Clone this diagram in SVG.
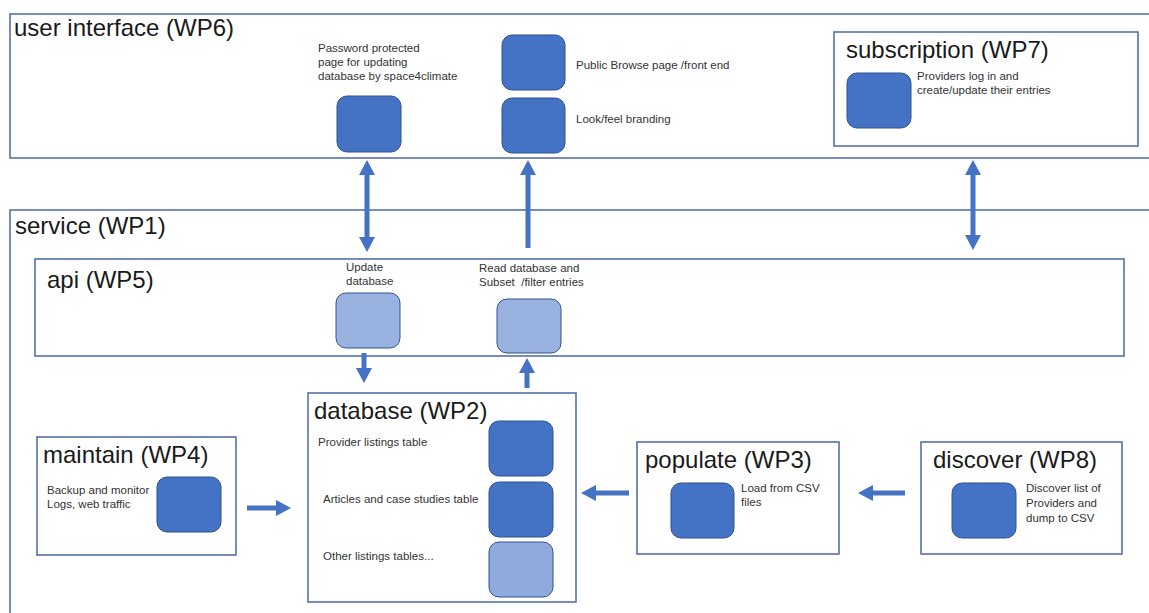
<svg xmlns="http://www.w3.org/2000/svg" width="1149" height="613" viewBox="0 0 1149 613">
  <style>
    .frame { fill: none; stroke: #5470AD; stroke-width: 1.6; }
    .box { fill: #ffffff; stroke: #5470AD; stroke-width: 1.6; }
    .sq { fill: #4472C4; stroke: #2F528F; stroke-width: 1; }
    .sql { fill: #9AB2DF; stroke: #2F528F; stroke-width: 1; }
    .title { font-family: "Liberation Sans", Arial, sans-serif; font-size: 24px; fill: #1a1a1a; }
    .small { font-family: "Liberation Sans", Arial, sans-serif; font-size: 11.5px; fill: #333333; }
    .arr { stroke: #4472C4; stroke-width: 5; fill: none; }
  </style>
  <defs>
    <marker id="head" viewBox="0 0 15 16" refX="10" refY="8" markerWidth="15" markerHeight="16" markerUnits="userSpaceOnUse" orient="auto-start-reverse">
      <path d="M0,0 L15,8 L0,16 Z" fill="#4472C4"/>
    </marker>
  </defs>
  <rect width="1149" height="613" fill="#ffffff"/>

  <g id="user-interface">
    <rect class="frame" x="10" y="14" width="1160" height="144"/>
    <text class="title" x="14" y="36">user interface (WP6)</text>
  </g>
  <g id="password-page">
    <rect class="sq" x="337" y="96" width="64" height="56" rx="10"/>
    <text class="small" x="318" y="52">Password protected</text>
    <text class="small" x="318" y="66">page for updating</text>
    <text class="small" x="318" y="80">database by space4climate</text>
  </g>
  <g id="public-browse">
    <rect class="sq" x="502" y="35" width="63" height="55" rx="10"/>
    <text class="small" x="576" y="69">Public Browse page /front end</text>
  </g>
  <g id="look-feel">
    <rect class="sq" x="502" y="98" width="63" height="55" rx="10"/>
    <text class="small" x="576" y="123">Look/feel branding</text>
  </g>
  <g id="subscription">
    <rect class="box" x="834" y="32" width="304" height="114"/>
    <text class="title" x="846" y="58">subscription (WP7)</text>
    <rect class="sq" x="847" y="73" width="64" height="55" rx="10"/>
    <text class="small" x="917" y="80">Providers log in and</text>
    <text class="small" x="917" y="94">create/update their entries</text>
  </g>

  <g id="service">
    <rect class="frame" x="10" y="210" width="1160" height="420"/>
    <text class="title" x="15" y="234">service (WP1)</text>
  </g>
  <g id="api">
    <rect class="box" x="35" y="259" width="1089" height="97"/>
    <text class="title" x="47" y="288">api (WP5)</text>
  </g>
  <g id="api-update">
    <rect class="sql" x="336" y="293" width="64" height="55" rx="10"/>
    <text class="small" x="346" y="271">Update</text>
    <text class="small" x="346" y="285">database</text>
  </g>
  <g id="api-read">
    <rect class="sql" x="497" y="299" width="64" height="54" rx="10"/>
    <text class="small" x="479" y="272">Read database and</text>
    <text class="small" x="479" y="286" xml:space="preserve">Subset  /filter entries</text>
  </g>

  <g id="maintain">
    <rect class="box" x="37" y="437" width="199" height="118"/>
    <text class="title" x="43" y="463">maintain (WP4)</text>
    <rect class="sq" x="157" y="477" width="64" height="55" rx="10"/>
    <text class="small" x="47" y="494">Backup and monitor</text>
    <text class="small" x="47" y="508">Logs, web traffic</text>
  </g>

  <g id="database">
    <rect class="box" x="308" y="393" width="268" height="209"/>
    <text class="title" x="314" y="419">database (WP2)</text>
    <rect class="sq" x="489" y="421" width="64" height="55" rx="10"/>
    <rect class="sq" x="489" y="482" width="64" height="55" rx="10"/>
    <rect class="sql" x="489" y="542" width="64" height="55" rx="10" style="fill:#8FAADC"/>
    <text class="small" x="318" y="446">Provider listings table</text>
    <text class="small" x="323" y="503">Articles and case studies table</text>
    <text class="small" x="323" y="560">Other listings tables...</text>
  </g>

  <g id="populate">
    <rect class="box" x="637" y="442" width="202" height="112"/>
    <text class="title" x="645" y="468">populate (WP3)</text>
    <rect class="sq" x="671" y="483" width="63" height="55" rx="10"/>
    <text class="small" x="741" y="492">Load from CSV</text>
    <text class="small" x="741" y="506">files</text>
  </g>

  <g id="discover">
    <rect class="box" x="921" y="442" width="201" height="112"/>
    <text class="title" x="933" y="468">discover (WP8)</text>
    <rect class="sq" x="952" y="483" width="64" height="55" rx="10"/>
    <text class="small" x="1026" y="492">Discover list of</text>
    <text class="small" x="1026" y="507">Providers and</text>
    <text class="small" x="1026" y="522">dump to CSV</text>
  </g>

  <g id="connectors">
    <line class="arr" x1="367" y1="165" x2="367" y2="247" marker-start="url(#head)" marker-end="url(#head)"/>
    <line class="arr" x1="528" y1="248" x2="528" y2="165" marker-end="url(#head)"/>
    <line class="arr" x1="973" y1="165" x2="973" y2="245" marker-start="url(#head)" marker-end="url(#head)"/>
    <line class="arr" x1="364" y1="353" x2="364" y2="378" marker-end="url(#head)"/>
    <line class="arr" x1="527" y1="388" x2="527" y2="363" marker-end="url(#head)"/>
    <line class="arr" x1="247" y1="508" x2="286" y2="508" marker-end="url(#head)"/>
    <line class="arr" x1="629" y1="493" x2="586" y2="493" marker-end="url(#head)"/>
    <line class="arr" x1="905" y1="493" x2="863" y2="493" marker-end="url(#head)"/>
  </g>
</svg>
